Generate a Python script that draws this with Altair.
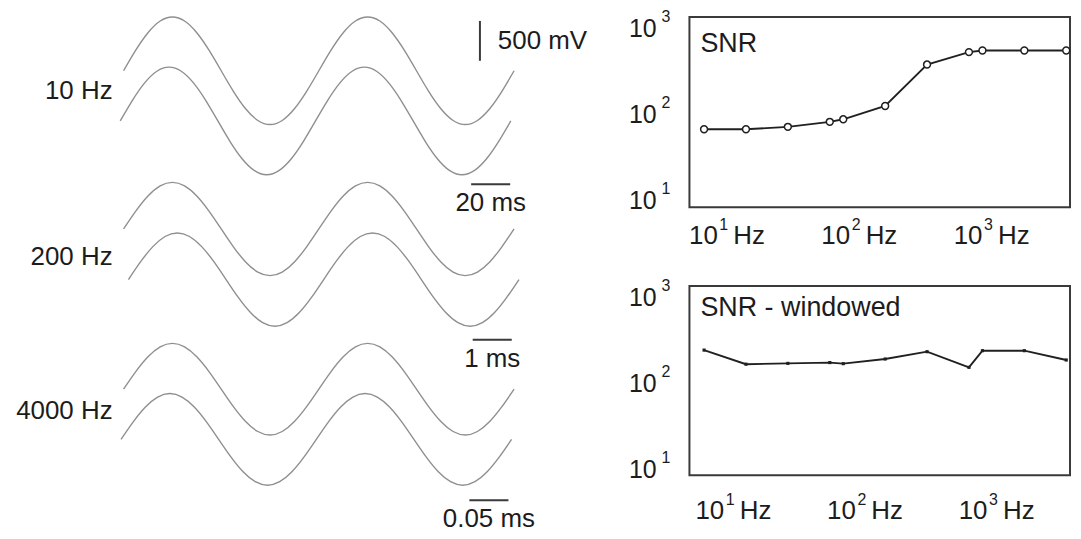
import altair as alt
import pandas as pd

# ---------------- data ----------------
# right panels: SNR vs stimulus frequency
freqs = [10, 20, 40, 80, 100, 200, 400, 800, 1000, 2000, 4000]
snr = [66, 66, 70, 79, 84, 116, 316, 427, 444, 444, 444]
snr_windowed = [210, 149, 152, 155, 151, 169, 202, 138, 207, 207, 165]

decade_ticks = [10, 100, 1000]
decade_exponents = ["1", "2", "3"]

# left panel: example traces, normalised shape over two cycles (16 samples per cycle)
trace_shape = [0.0, 0.383, 0.707, 0.924, 1.0, 0.924, 0.707, 0.383,
               0.0, -0.383, -0.707, -0.924, -1.0, -0.924, -0.707, -0.383,
               0.0, 0.383, 0.707, 0.924, 1.0, 0.924, 0.707, 0.383,
               0.0, -0.383, -0.707, -0.924, -1.0, -0.924, -0.707, -0.383,
               0.0]
group_labels = ["10 Hz", "200 Hz", "4000 Hz"]
group_freq_hz = [10, 200, 4000]
trace_group = [0, 0, 1, 1, 2, 2]
trace_amp_mv = [675, 675, 585, 585, 575, 575]
trace_shift_cycles = [0.0, -0.017, 0.0, 0.025, 0.0, -0.013]

# time scale bars (ms) and voltage bar (mV)
bar_labels = ["20 ms", "1 ms", "0.05 ms"]
bar_ms = [20, 1, 0.05]
volt_bar_label = "500 mV"
volt_bar_mv = 500

# ---------------- layout constants ----------------
trace_offset_mv = [-750, -1380, -2735, -3370, -4745, -5375]
group_label_mv = [-1006, -3088, -5025]
bar_start_cycles = [1.78, 1.788, 1.771]
bar_mv = [-2175, -4125, -6140]
volt_bar_cycle = 1.825
volt_bar_top_mv = -125

FONT = "Liberation Sans"
TXT = "#1c1c1c"
WAVE = "#8f8f8f"
BOX = "#3a3a3a"
LINE = "#202020"

W, H = 1068, 520


def xs_left():
    return alt.Scale(domain=[0, 2], range=[116, 508], nice=False, zero=False)


def ys_left():
    return alt.Scale(domain=[-6500, 0], range=[H, 0], nice=False, zero=False)


# ---------------- left panel ----------------
rows = []
for i in range(len(trace_group)):
    for k, v in enumerate(trace_shape):
        rows.append({
            "trace": i,
            "k": k,
            "cycle": k / 16 + trace_shift_cycles[i],
            "mv": trace_offset_mv[i] + trace_amp_mv[i] * v,
        })
waves_df = pd.DataFrame(rows)

waves = alt.Chart(waves_df).mark_line(
    interpolate="natural", color=WAVE, strokeWidth=1.4
).encode(
    x=alt.X("cycle:Q", scale=xs_left(), axis=None),
    y=alt.Y("mv:Q", scale=ys_left(), axis=None),
    detail="trace:N",
    order="k:Q",
)

glabel_df = pd.DataFrame({"label": group_labels, "cycle": [0, 0, 0], "mv": group_label_mv})
glabels = alt.Chart(glabel_df).mark_text(
    align="right", baseline="middle", dx=-11, font=FONT, fontSize=26, color=TXT
).encode(
    x=alt.X("cycle:Q", scale=xs_left(), axis=None),
    y=alt.Y("mv:Q", scale=ys_left(), axis=None),
    text="label:N",
)

bars_df = pd.DataFrame({
    "label": bar_labels,
    "start": bar_start_cycles,
    "end": [s + ms / 1000 * f for s, ms, f in zip(bar_start_cycles, bar_ms, group_freq_hz)],
    "mv": bar_mv,
})
bars_df["mid"] = (bars_df["start"] + bars_df["end"]) / 2

hbars = alt.Chart(bars_df).mark_rule(color=BOX, strokeWidth=2).encode(
    x=alt.X("start:Q", scale=xs_left(), axis=None),
    x2="end:Q",
    y=alt.Y("mv:Q", scale=ys_left(), axis=None),
)
hbar_text = alt.Chart(bars_df).mark_text(
    align="center", baseline="middle", dy=19, font=FONT, fontSize=26, color=TXT
).encode(
    x=alt.X("mid:Q", scale=xs_left(), axis=None),
    y=alt.Y("mv:Q", scale=ys_left(), axis=None),
    text="label:N",
)

vbar_df = pd.DataFrame({
    "label": [volt_bar_label],
    "cycle": [volt_bar_cycle],
    "top": [volt_bar_top_mv],
    "bottom": [volt_bar_top_mv - volt_bar_mv],
    "mid": [volt_bar_top_mv - volt_bar_mv / 2],
})
vbar = alt.Chart(vbar_df).mark_rule(color=BOX, strokeWidth=2).encode(
    x=alt.X("cycle:Q", scale=xs_left(), axis=None),
    y=alt.Y("top:Q", scale=ys_left(), axis=None),
    y2="bottom:Q",
)
vbar_text = alt.Chart(vbar_df).mark_text(
    align="left", baseline="middle", dx=18, font=FONT, fontSize=26, color=TXT
).encode(
    x=alt.X("cycle:Q", scale=xs_left(), axis=None),
    y=alt.Y("mid:Q", scale=ys_left(), axis=None),
    text="label:N",
)

# ---------------- right panels ----------------
X_DOMAIN = [7.85, 4258]
X_RANGE = [684, 1066]


def panel(values, y_range, lab_y_range, lab_x_range, xlab_y, title, title_y, open_markers):
    xsc = lambda: alt.Scale(type="log", domain=X_DOMAIN, range=X_RANGE, nice=False)
    ysc = lambda: alt.Scale(type="log", domain=[10, 1000], range=y_range, nice=False)
    df = pd.DataFrame({"freq": freqs, "snr": values})
    box_df = pd.DataFrame({"x0": [X_DOMAIN[0]], "x1": [X_DOMAIN[1]], "y0": [10], "y1": [1000]})
    box = alt.Chart(box_df).mark_rect(fillOpacity=0, stroke=BOX, strokeWidth=2).encode(
        x=alt.X("x0:Q", scale=xsc(), axis=None), x2="x1:Q",
        y=alt.Y("y0:Q", scale=ysc(), axis=None), y2="y1:Q",
    )
    line = alt.Chart(df).mark_line(color=LINE, strokeWidth=1.9).encode(
        x=alt.X("freq:Q", scale=xsc(), axis=None),
        y=alt.Y("snr:Q", scale=ysc(), axis=None),
    )
    if open_markers:
        pts = alt.Chart(df).mark_point(
            shape="circle", filled=True, fill="white", stroke=LINE, strokeWidth=1.5,
            size=48, opacity=1,
        )
    else:
        pts = alt.Chart(df).mark_point(shape="square", filled=True, color=LINE, size=10, opacity=1)
    pts = pts.encode(
        x=alt.X("freq:Q", scale=xsc(), axis=None),
        y=alt.Y("snr:Q", scale=ysc(), axis=None),
    )
    tick_df = pd.DataFrame({"v": decade_ticks, "base": ["10"] * 3, "exp": decade_exponents, "hz": ["Hz"] * 3})
    ylab_sc = lambda: alt.Scale(type="log", domain=[10, 1000], range=lab_y_range, nice=False)
    xlab_sc = lambda: alt.Scale(type="log", domain=[10, 1000], range=lab_x_range, nice=False)
    ybase = alt.Chart(tick_df).mark_text(
        align="right", baseline="middle", font=FONT, fontSize=25, color=TXT
    ).encode(y=alt.Y("v:Q", scale=ylab_sc(), axis=None), x=alt.value(651), text="base:N")
    yexp = alt.Chart(tick_df).mark_text(
        align="left", baseline="middle", dy=-12, font=FONT, fontSize=16, color=TXT
    ).encode(y=alt.Y("v:Q", scale=ylab_sc(), axis=None), x=alt.value(656), text="exp:N")
    xbase = alt.Chart(tick_df).mark_text(
        align="center", baseline="middle", font=FONT, fontSize=26, color=TXT
    ).encode(x=alt.X("v:Q", scale=xlab_sc(), axis=None), y=alt.value(xlab_y), text="base:N")
    xexp = alt.Chart(tick_df).mark_text(
        align="left", baseline="middle", dx=16, dy=-11, font=FONT, fontSize=16, color=TXT
    ).encode(x=alt.X("v:Q", scale=xlab_sc(), axis=None), y=alt.value(xlab_y), text="exp:N")
    xhz = alt.Chart(tick_df).mark_text(
        align="left", baseline="middle", dx=30, font=FONT, fontSize=26, color=TXT
    ).encode(x=alt.X("v:Q", scale=xlab_sc(), axis=None), y=alt.value(xlab_y), text="hz:N")
    ttl = alt.Chart(pd.DataFrame({"t": [title]})).mark_text(
        align="left", baseline="middle", font=FONT, fontSize=27, color=TXT
    ).encode(x=alt.value(695), y=alt.value(title_y), text="t:N")
    return [box, line, pts, ybase, yexp, xbase, xexp, xhz, ttl]


top_layers = panel(snr, [197, 6], [191, 18], [698, 963.7], 226, "SNR", 33.5, True)
bottom_layers = panel(snr_windowed, [466, 276], [461, 288], [704.5, 968.7], 502,
                      "SNR - windowed", 298, False)

chart = alt.layer(
    waves, glabels, hbars, hbar_text, vbar, vbar_text,
    *top_layers, *bottom_layers,
).resolve_scale(
    x="independent", y="independent"
).properties(
    width=W, height=H, padding=0
).configure_view(stroke=None)

chart.save("out.html", embed_options={"renderer": "svg", "actions": False})
